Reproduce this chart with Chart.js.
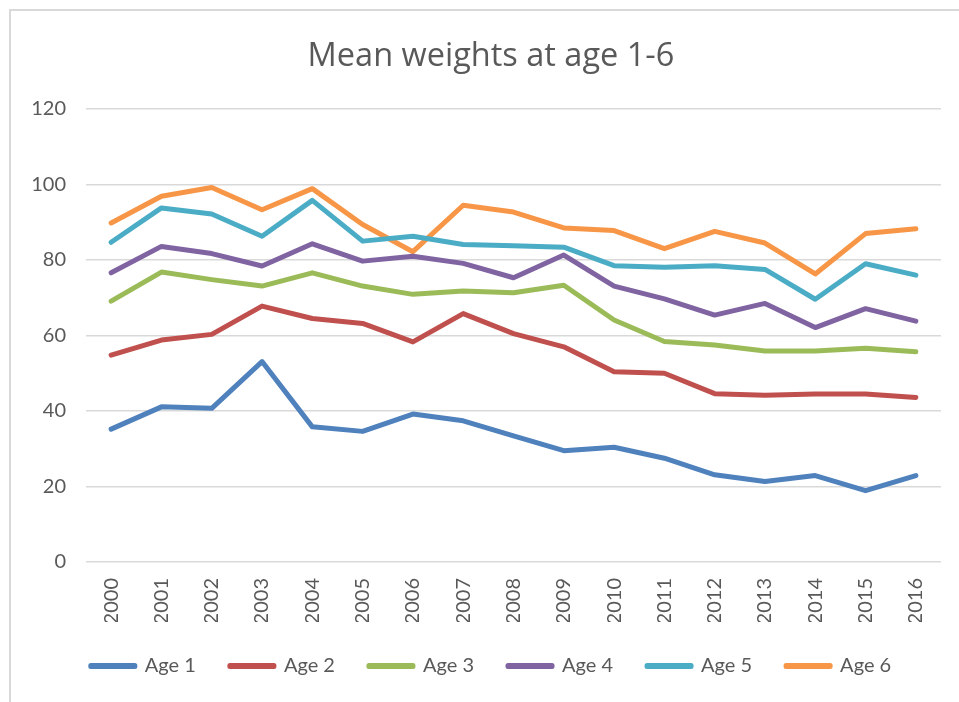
<!DOCTYPE html>
<html>
<head>
<meta charset="utf-8">
<script src="https://cdn.jsdelivr.net/npm/chart.js@4"></script>
<style>
html,body{margin:0;padding:0;background:#fff;overflow:hidden;width:959px;height:702px;}
#frame{position:absolute;left:9px;top:9px;width:990px;height:720px;border-left:2px solid #d9d9d9;border-top:2px solid #d9d9d9;}
#c{position:absolute;left:0;top:0;}
</style>
</head>
<body>
<div id="frame"><canvas id="c" width="960" height="691"></canvas></div>
<script>
const years = ["2000","2001","2002","2003","2004","2005","2006","2007","2008","2009","2010","2011","2012","2013","2014","2015","2016"];
const age1 = [35.2,41.1,40.7,53.1,35.8,34.6,39.2,37.4,33.4,29.5,30.4,27.5,23.1,21.3,22.9,18.9,22.9];
const age2 = [54.8,58.8,60.3,67.8,64.5,63.2,58.3,65.8,60.5,57.0,50.4,50.0,44.6,44.2,44.5,44.5,43.6];
const age3 = [69.1,76.8,74.8,73.1,76.6,73.1,70.9,71.8,71.3,73.3,64.1,58.4,57.5,55.9,55.9,56.6,55.7];
const age4 = [76.6,83.6,81.7,78.4,84.3,79.7,81.0,79.1,75.3,81.3,73.1,69.7,65.4,68.5,62.1,67.1,63.8];
const age5 = [84.7,93.8,92.2,86.3,95.8,85.0,86.3,84.1,83.8,83.4,78.5,78.1,78.5,77.5,69.6,79.0,76.0];
const age6 = [89.8,96.9,99.2,93.3,98.9,89.4,82.2,94.5,92.7,88.5,87.8,83.0,87.6,84.5,76.3,87.0,88.3];
const seriesNames = ["Age 1","Age 2","Age 3","Age 4","Age 5","Age 6"];
const seriesColors = ["#4F81BD","#C0504D","#9BBB59","#8064A2","#4BACC6","#F79646"];
const seriesData = [age1,age2,age3,age4,age5,age6];
const yTicks = {min:0,max:120,step:20};

const txt = "#595959";
const datasets = seriesNames.map((n,i)=>({
  label:n,
  data:seriesData[i],
  borderColor:seriesColors[i],
  backgroundColor:seriesColors[i],
  borderWidth:5,
  pointRadius:0,
  pointHoverRadius:0,
  tension:0,
  borderCapStyle:'round',
  borderJoinStyle:'round',
  fill:false
}));

new Chart(document.getElementById('c'),{
  type:'line',
  data:{labels:years,datasets},
  options:{
    responsive:false,
    animation:false,
    events:[],
    layout:{padding:{left:0,right:0,top:0,bottom:16}},
    plugins:{
      title:{display:true,text:"Mean weights at age 1-6",color:txt,
        font:{family:"'Open Sans'",size:32.5,weight:'normal'},padding:{top:26,bottom:33}},
      legend:{position:'bottom',
        labels:{color:txt,font:{family:"Lato",size:20},boxWidth:44,boxHeight:1,padding:34}},
      tooltip:{enabled:false}
    },
    scales:{
      x:{offset:true,
        grid:{display:false,drawTicks:false},
        border:{display:false},
        ticks:{color:txt,font:{family:"Lato",size:20},maxRotation:90,minRotation:90,padding:16,autoSkip:false},
        afterFit:(s)=>{s.height=60;}
      },
      y:{min:yTicks.min,max:yTicks.max,
        grid:{color:"#d9d9d9",lineWidth:1.5,drawTicks:false},
        border:{display:false},
        ticks:{stepSize:yTicks.step,color:txt,font:{family:"Lato",size:20},padding:20},
        afterFit:(s)=>{s.width=75;}
      },
      yr:{position:'right',min:yTicks.min,max:yTicks.max,
        grid:{display:false,drawTicks:false},
        border:{display:false},
        ticks:{display:false},
        afterFit:(s)=>{s.width=30;}
      }
    }
  }
});
</script>
</body>
</html>
